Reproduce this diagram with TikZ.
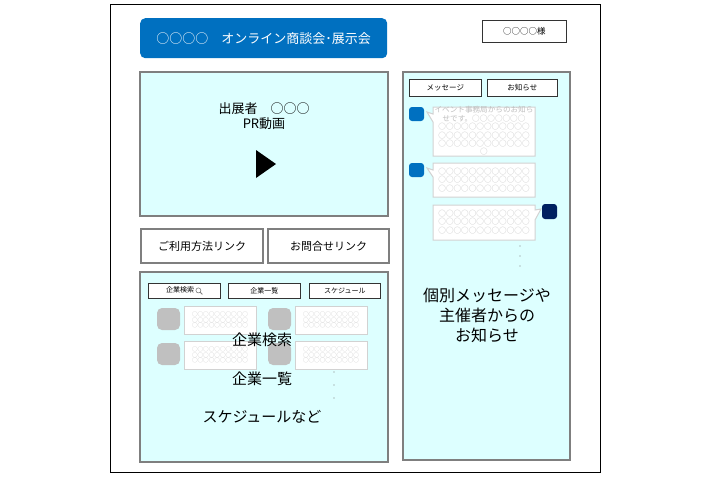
\documentclass[tikz,border=0pt]{standalone}
\usepackage{fontspec}
\setmainfont{Noto Sans CJK JP}
\definecolor{pcyan}{HTML}{DDFFFF}
\definecolor{pgray}{HTML}{7F7F7F}
\definecolor{tblue}{HTML}{0070C0}
\definecolor{navy}{HTML}{002060}
\definecolor{lgray}{HTML}{BFBFBF}
\definecolor{dgray}{HTML}{C0C0C0}
\begin{document}
\begin{tikzpicture}[x=1pt,y=-1pt,
 panel/.style={draw=pgray,line width=2.5pt,fill=pcyan},
 btn/.style={draw=pgray,line width=2pt,fill=white},
 tab/.style={draw=black!80,line width=0.8pt,fill=white},
 bubble/.style={draw=lgray!70,line width=1pt,fill=white},
 big/.style={font=\fontsize{15}{20}\selectfont},
 small/.style={font=\fontsize{8.5}{10}\selectfont},
 circ/.style={text=lgray,font=\fontsize{7.6}{8.4}\selectfont,align=center,inner sep=0pt},
 circs/.style={text=lgray,font=\fontsize{5.6}{5.8}\selectfont,align=center,inner sep=0pt}]
\useasboundingbox (0,0) rectangle (720,480);
\draw[black,line width=0.7pt] (110,4) rectangle (600,472);
\node[fill=tblue,rounded corners=5pt,minimum width=247pt,minimum height=40pt,text=white,font=\fontsize{13}{15}\selectfont,anchor=north west] (title) at (140,18) {○○○○　オンライン商談会･展示会};
\node[draw=black!80,line width=0.8pt,minimum width=84pt,minimum height=22pt,anchor=north west,small] (name) at (482,20) {○○○○様};
% video
\draw[panel] (140,72) rectangle (388,216);
\node[font=\fontsize{13}{15}\selectfont,align=center] (pr) at (264,116) {出展者　○○○\\PR動画};
\fill (256,150) -- (276,164) -- (256,178) -- cycle;
% buttons
\node[btn,minimum width=122pt,minimum height=34pt,anchor=north west,font=\fontsize{11}{13}\selectfont] (b1) at (140,228) {ご利用方法リンク};
\node[btn,minimum width=121pt,minimum height=34pt,anchor=north west,font=\fontsize{11}{13}\selectfont] (b2) at (267,228) {お問合せリンク};
% lower panel
\draw[panel] (140,272) rectangle (388,462);
\node[tab,minimum width=72pt,minimum height=15pt,anchor=north west,inner sep=0pt,font=\fontsize{7}{8}\selectfont] (t1) at (148,283) {企業検索 \tikz[x=1pt,y=1pt,baseline=-1pt]{\draw[gray,line width=0.6pt](0,1.5) circle (2.5pt);\draw[gray,line width=0.8pt](1.8,-0.3)--(4,-2.5);}};
\node[tab,minimum width=72pt,minimum height=15pt,anchor=north west,inner sep=0pt,font=\fontsize{7}{8}\selectfont] (t2) at (228,283) {企業一覧};
\node[tab,minimum width=71pt,minimum height=15pt,anchor=north west,inner sep=0pt,font=\fontsize{7}{8}\selectfont] (t3) at (309,283) {スケジュール};
\foreach \ax/\ay in {157/308,157/343,268/308,268/343}{
 \fill[dgray,rounded corners=5pt] (\ax,\ay) rectangle ++(23,22);
 \draw[bubble] (\ax+27,\ay-2) rectangle ++(72,28);
 \node[circs] at (\ax+63,\ay+12) {○○○○○○○○○○\\○○○○○○○○○○\\○○○○○○○○○○};
}
\foreach \dy in {372,385,398} \fill[gray] (334,\dy) circle (0.6pt);
\node[big] (s1) at (262,340) {企業検索};
\node[big] (s2) at (262,379) {企業一覧};
\node[big] (s3) at (262,417) {スケジュールなど};
% right panel
\draw[panel] (403,72) rectangle (570,460);
\node[tab,minimum width=72pt,minimum height=17pt,anchor=north west,inner sep=0pt,font=\fontsize{7.5}{8}\selectfont] (m1) at (409,79) {メッセージ};
\node[tab,minimum width=70pt,minimum height=17pt,anchor=north west,inner sep=0pt,font=\fontsize{7.5}{8}\selectfont] (m2) at (487,79) {お知らせ};
\fill[tblue,rounded corners=3pt] (409,107) rectangle (424,121);
\draw[bubble] (433,107) -- (535,107) -- (535,156) -- (433,156) -- (433,122) -- (427,112) -- (433,114) -- cycle;
\node[circ] at (484,131) {イベント事務局からのお知ら\\せです。○○○○○○○\\○○○○○○○○○○○○\\○○○○○○○○○○○○\\○○○○○○○○○○○○\\○};
\fill[tblue,rounded corners=3pt] (409,163) rectangle (424,177);
\draw[bubble] (433,163) -- (535,163) -- (535,197) -- (433,197) -- (433,177) -- (427,168) -- (433,170) -- cycle;
\node[circ] at (484,180) {○○○○○○○○○○○○\\○○○○○○○○○○○○\\○○○○○○○○○○○○};
\fill[navy,rounded corners=3pt] (542,204) rectangle (557,219);
\draw[bubble] (433,205) -- (535,205) -- (535,210) -- (541,209) -- (535,220) -- (535,240) -- (433,240) -- cycle;
\node[circ] at (484,222) {○○○○○○○○○○○○\\○○○○○○○○○○○○\\○○○○○○○○○○○○};
\foreach \dy in {246,256,266} \fill[gray] (520,\dy) circle (0.6pt);
\node[font=\fontsize{16}{20}\selectfont,align=center] (msg) at (487,315) {個別メッセージや\\主催者からの\\お知らせ};
\end{tikzpicture}
\end{document}
